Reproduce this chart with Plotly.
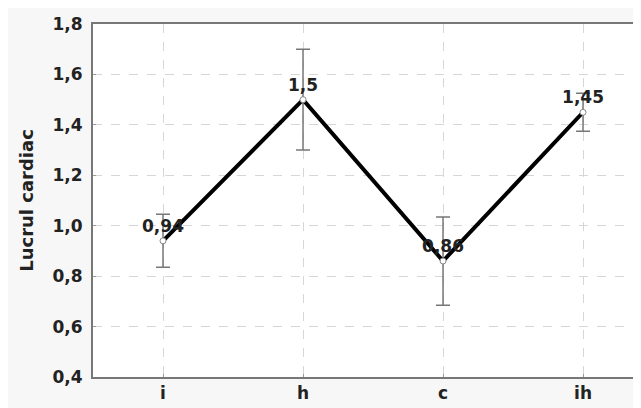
import plotly.graph_objects as go

groups = ["i", "h", "c", "ih"]
means = [0.94, 1.5, 0.86, 1.45]
errors = [0.105, 0.2, 0.175, 0.075]
y_ticks = [0.4, 0.6, 0.8, 1.0, 1.2, 1.4, 1.6, 1.8]

labels = [f"{v:g}".replace(".", ",") for v in means]
font_family = "DejaVu Sans, Arial, sans-serif"

fig = go.Figure()

fig.add_trace(
    go.Scatter(
        x=groups,
        y=means,
        mode="lines+markers+text",
        line=dict(color="black", width=4),
        marker=dict(size=6, color="white", line=dict(color="#888", width=1)),
        error_y=dict(
            type="data",
            array=errors,
            visible=True,
            color="#777",
            thickness=1.5,
            width=7,
        ),
        text=labels,
        textposition="top center",
        textfont=dict(family=font_family, size=17, color="#222", weight="bold"),
        showlegend=False,
        cliponaxis=False,
    )
)

# the page body adds an 8px white border, so the figure is 8px smaller
fig.update_layout(
    width=633,
    height=400,
    margin=dict(l=85, r=0, t=16, b=31),
    paper_bgcolor="#f7f7f7",
    plot_bgcolor="white",
    separators=", ",
    font=dict(family=font_family, size=17, color="#222"),
)

fig.update_xaxes(
    range=[-0.5, 3.414],
    automargin=False,
    showline=True,
    linecolor="#777",
    linewidth=2,
    mirror=True,
    showgrid=True,
    gridcolor="#d6d6d6",
    griddash="dash",
    gridwidth=1,
    ticks="inside",
    ticklen=3,
    tickcolor="#999",
    tickfont=dict(size=17, weight="bold"),
)

fig.update_yaxes(
    range=[0.4, 1.8],
    automargin=False,
    tickvals=y_ticks,
    tickformat=".1f",
    showline=True,
    linecolor="#777",
    linewidth=2,
    showgrid=True,
    gridcolor="#d6d6d6",
    griddash="dash",
    gridwidth=1,
    zeroline=False,
    ticks="inside",
    ticklen=3,
    tickcolor="#999",
    ticklabelstandoff=5,
    tickfont=dict(size=17, weight="bold"),
    title=dict(text="Lucrul cardiac", font=dict(size=18, weight="bold"), standoff=14),
)

fig.write_html("out.html")
